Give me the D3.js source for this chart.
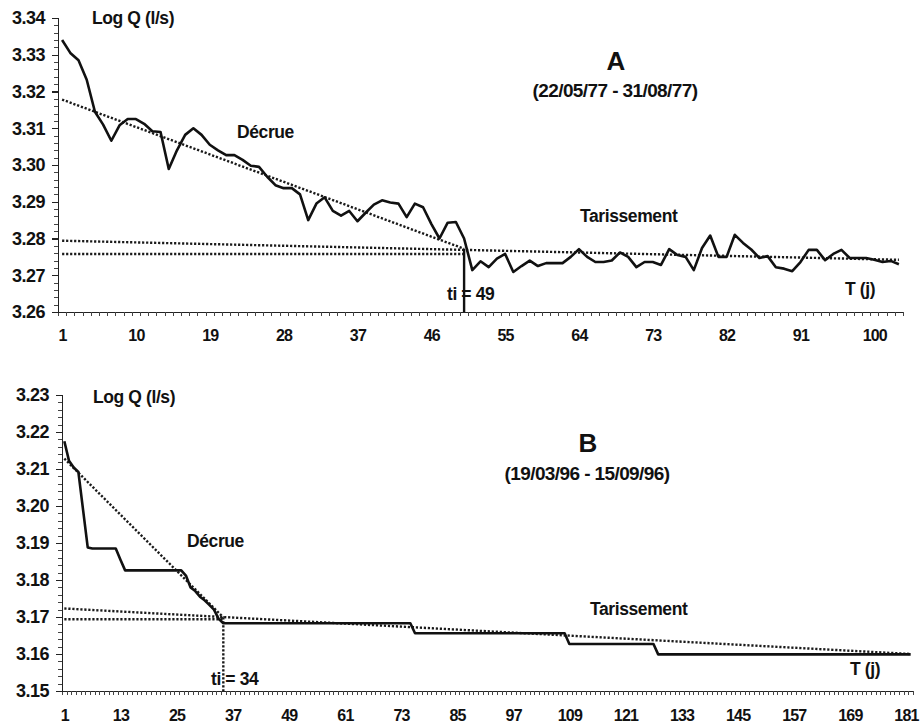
<!DOCTYPE html>
<html>
<head>
<meta charset="utf-8">
<script src="https://cdn.jsdelivr.net/npm/d3@7"></script>
<style>
  body { margin: 0; background: #fff; }
  svg text { font-family: "Liberation Sans", Arial, sans-serif; font-weight: bold; fill: #111; }
  .axis line, .axis path { shape-rendering: crispEdges; }
</style>
</head>
<body>
<svg id="chart" width="924" height="725"></svg>
<script>
// ---------- Panel A : 22/05/77 - 31/08/77 ----------
const logQA = [
  3.3340, 3.3305, 3.3285, 3.3232, 3.3145, 3.3110, 3.3066, 3.3108, 3.3125, 3.3125,
  3.3112, 3.3092, 3.3090, 3.2989, 3.3040, 3.3082, 3.3100, 3.3082, 3.3055, 3.3040,
  3.3027, 3.3027, 3.3014, 3.2998, 3.2995, 3.2968, 3.2945, 3.2937, 3.2937, 3.2920,
  3.2850, 3.2895, 3.2912, 3.2875, 3.2862, 3.2875, 3.2847, 3.2870, 3.2892, 3.2904,
  3.2898, 3.2895, 3.2858, 3.2895, 3.2885, 3.2840, 3.2800, 3.2843, 3.2845, 3.2800,
  3.2714, 3.2738, 3.2722, 3.2745, 3.2758, 3.2709, 3.2725, 3.2740, 3.2725, 3.2733,
  3.2733, 3.2733, 3.2750, 3.2771, 3.2750, 3.2736, 3.2736, 3.2740, 3.2762, 3.2750,
  3.2722, 3.2736, 3.2736, 3.2728, 3.2771, 3.2755, 3.2750, 3.2714, 3.2774, 3.2808,
  3.2750, 3.2750, 3.2810, 3.2788, 3.2770, 3.2747, 3.2752, 3.2722, 3.2718, 3.2711,
  3.2736, 3.2769, 3.2769, 3.2741, 3.2758, 3.2769, 3.2747, 3.2747, 3.2747, 3.2742,
  3.2736, 3.2739, 3.2730
];
const xLabelsA = [1, 10, 19, 28, 37, 46, 55, 64, 73, 82, 91, 100];
const yTicksA = [3.26, 3.27, 3.28, 3.29, 3.30, 3.31, 3.32, 3.33, 3.34];
const tiA = 49;                       // days after day 1
const decrueA = [3.3178, 3.2772];     // recession line: day 1 -> ti
const tarissementA = [3.2794, 3.2742];// baseflow line: first -> last day
const q0A = 3.2758;

// ---------- Panel B : 19/03/96 - 15/09/96 ----------
const logQB = [
  3.2175, 3.2122, 3.2104, 3.2092, 3.1990, 3.1888, 3.1885, 3.1885, 3.1885, 3.1885,
  3.1885, 3.1885, 3.1855, 3.1826, 3.1826, 3.1826, 3.1826, 3.1826, 3.1826, 3.1826,
  3.1826, 3.1826, 3.1826, 3.1826, 3.1826, 3.1826, 3.1812, 3.1780, 3.1770, 3.1755,
  3.1745, 3.1733, 3.1720, 3.1695, 3.1683, 3.1683, 3.1683, 3.1683, 3.1683, 3.1683,
  3.1683, 3.1683, 3.1683, 3.1683, 3.1683, 3.1683, 3.1683, 3.1683, 3.1683, 3.1683,
  3.1683, 3.1683, 3.1683, 3.1683, 3.1683, 3.1683, 3.1683, 3.1683, 3.1683, 3.1683,
  3.1683, 3.1683, 3.1683, 3.1683, 3.1683, 3.1683, 3.1683, 3.1683, 3.1683, 3.1683,
  3.1683, 3.1683, 3.1683, 3.1683, 3.1683, 3.1656, 3.1656, 3.1656, 3.1656, 3.1656,
  3.1656, 3.1656, 3.1656, 3.1656, 3.1656, 3.1656, 3.1656, 3.1656, 3.1656, 3.1656,
  3.1656, 3.1656, 3.1656, 3.1656, 3.1656, 3.1656, 3.1656, 3.1656, 3.1656, 3.1656,
  3.1656, 3.1656, 3.1656, 3.1656, 3.1656, 3.1656, 3.1656, 3.1656, 3.1627, 3.1627,
  3.1627, 3.1627, 3.1627, 3.1627, 3.1627, 3.1627, 3.1627, 3.1627, 3.1627, 3.1627,
  3.1627, 3.1627, 3.1627, 3.1627, 3.1627, 3.1627, 3.1627, 3.1599, 3.1599, 3.1599,
  3.1599, 3.1599, 3.1599, 3.1599, 3.1599, 3.1599, 3.1599, 3.1599, 3.1599, 3.1599,
  3.1599, 3.1599, 3.1599, 3.1599, 3.1599, 3.1599, 3.1599, 3.1599, 3.1599, 3.1599,
  3.1599, 3.1599, 3.1599, 3.1599, 3.1599, 3.1599, 3.1599, 3.1599, 3.1599, 3.1599,
  3.1599, 3.1599, 3.1599, 3.1599, 3.1599, 3.1599, 3.1599, 3.1599, 3.1599, 3.1599,
  3.1599, 3.1599, 3.1599, 3.1599, 3.1599, 3.1599, 3.1599, 3.1599, 3.1599, 3.1599,
  3.1599, 3.1599
];
const xLabelsB = [1, 13, 25, 37, 49, 61, 73, 85, 97, 109, 121, 133, 145, 157, 169, 181];
const yTicksB = [3.15, 3.16, 3.17, 3.18, 3.19, 3.20, 3.21, 3.22, 3.23];
const tiB = 34;
const decrueB = [3.2128, 3.1699];
const tarissementB = [3.1723, 3.1600];
const q0B = 3.1694;

const svg = d3.select("#chart");

function drawPanel(p) {
  const n = p.values.length;
  const days = d3.range(1, n + 1);
  const tiDay = p.ti + 1;           // ti counted from the first day
  const x = d3.scaleLinear().domain([0.5, n + 0.5]).range([p.left, p.right]);
  const y = d3.scaleLinear().domain([p.yTicks[0], p.yTicks[p.yTicks.length - 1]])
                            .range([p.bottom, p.top]);
  const g = svg.append("g");

  // x axis: one small tick per day boundary
  const xAxis = g.append("g").attr("class", "axis").attr("transform", `translate(0,${p.bottom})`)
    .call(d3.axisBottom(x).tickValues(d3.range(0.5, n + 1, 1)).tickSize(4).tickFormat(""));
  xAxis.select(".domain").attr("stroke", "#222").attr("stroke-width", 1.4);
  xAxis.selectAll(".tick line").attr("stroke", "#444").attr("stroke-width", 1);

  // x labels
  const xLab = g.append("g").attr("transform", `translate(0,${p.bottom})`)
    .call(d3.axisBottom(x).tickValues(p.xLabels).tickSize(0).tickPadding(p.xLabelPad).tickFormat(d3.format("d")));
  xLab.select(".domain").remove();
  xLab.selectAll("text").attr("font-size", 16).attr("letter-spacing", -0.8);

  // y axis minor ticks
  const yMinor = d3.range(0, 41).map(i => p.yTicks[0] + i * 0.002);
  const yMin = g.append("g").attr("class", "axis").attr("transform", `translate(${p.left},0)`)
    .call(d3.axisLeft(y).tickValues(yMinor).tickSize(4).tickFormat(""));
  yMin.select(".domain").attr("stroke", "#222").attr("stroke-width", 1.4);
  yMin.selectAll(".tick line").attr("stroke", "#444").attr("stroke-width", 1);

  // y axis major ticks + labels
  const yMaj = g.append("g").attr("class", "axis").attr("transform", `translate(${p.left},0)`)
    .call(d3.axisLeft(y).tickValues(p.yTicks).tickSize(6).tickPadding(7).tickFormat(d3.format(".2f")));
  yMaj.select(".domain").remove();
  yMaj.selectAll(".tick line").attr("stroke", "#222").attr("stroke-width", 1.2);
  yMaj.selectAll("text").attr("font-size", 18).attr("letter-spacing", -0.5);

  const dotted = sel => sel.attr("fill", "none").attr("stroke", "#1a1a1a")
    .attr("stroke-width", 2.4).attr("stroke-dasharray", "2.2,1.8");

  // baseflow (tarissement) regression line
  g.append("line").call(dotted)
    .attr("x1", x(1)).attr("y1", y(p.tarissement[0]))
    .attr("x2", x(n)).attr("y2", y(p.tarissement[1]));
  // horizontal reference line up to ti
  g.append("line").call(dotted)
    .attr("x1", x(1)).attr("y1", y(p.q0))
    .attr("x2", x(tiDay)).attr("y2", y(p.q0));
  // recession (décrue) regression line
  g.append("line").call(dotted)
    .attr("x1", x(1)).attr("y1", y(p.decrue[0]))
    .attr("x2", x(tiDay)).attr("y2", y(p.decrue[1]));

  // ti marker
  const tiLine = g.append("line")
    .attr("x1", x(tiDay)).attr("y1", y(p.decrue[1]))
    .attr("x2", x(tiDay)).attr("y2", p.bottom)
    .attr("stroke", "#111");
  if (p.tiDotted) tiLine.call(dotted); else tiLine.attr("stroke-width", 2.4);

  // discharge series
  g.append("path").datum(p.values)
    .attr("fill", "none").attr("stroke", "#111").attr("stroke-width", 2.6)
    .attr("stroke-linejoin", "round")
    .attr("d", d3.line().x((d, i) => x(days[i])).y(d => y(d)));

  // annotations
  p.texts.forEach(t => {
    g.append("text").attr("x", t[0]).attr("y", t[1]).attr("font-size", t[3] || 17.5)
      .attr("text-anchor", t[4] || "start").attr("letter-spacing", t[5] == null ? -0.4 : t[5])
      .text(t[2]);
  });
}

drawPanel({
  values: logQA, xLabels: xLabelsA, yTicks: yTicksA, ti: tiA,
  decrue: decrueA, tarissement: tarissementA, q0: q0A, tiDotted: false,
  left: 58, right: 903, top: 18, bottom: 312, xLabelPad: 18,
  texts: [
    [92, 24, "Log Q (l/s)"],
    [616, 70, "A", 26, "middle", 0],
    [615, 97, "(22/05/77 - 31/08/77)", 19, "middle", -0.6],
    [237, 138, "Décrue"],
    [580, 222, "Tarissement"],
    [845, 295, "T (j)"],
    [447, 300, "ti = 49"]
  ]
});

drawPanel({
  values: logQB, xLabels: xLabelsB, yTicks: yTicksB, ti: tiB,
  decrue: decrueB, tarissement: tarissementB, q0: q0B, tiDotted: true,
  left: 62, right: 913, top: 395, bottom: 691, xLabelPad: 19,
  texts: [
    [93, 403, "Log Q (l/s)"],
    [588, 452, "B", 26, "middle", 0],
    [587, 480, "(19/03/96 - 15/09/96)", 19, "middle", -0.6],
    [187, 547, "Décrue"],
    [590, 615, "Tarissement"],
    [850, 675, "T (j)"],
    [211, 685, "ti = 34"]
  ]
});
</script>
</body>
</html>
